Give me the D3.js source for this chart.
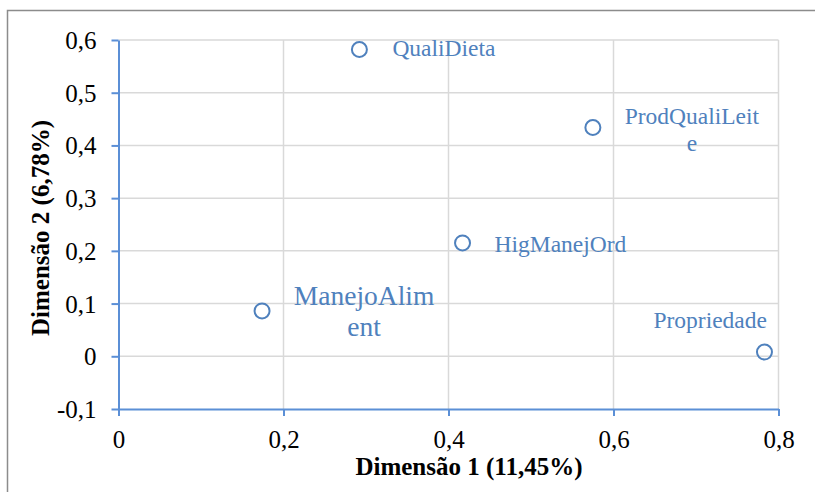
<!DOCTYPE html>
<html>
<head>
<meta charset="utf-8">
<script src="https://cdn.jsdelivr.net/npm/d3@7"></script>
<style>
	body { margin: 0; background: #fff; }
	text { font-family: 'Liberation Serif', 'Times New Roman', serif; }
</style>
</head>
<body>
<div id="chart"></div>
<script>
// data
const names = ['QualiDieta', 'ProdQualiLeite', 'HigManejOrd', 'ManejoAliment', 'Propriedade'];
const dim1 = [0.292, 0.575, 0.417, 0.174, 0.783];
const dim2 = [0.582, 0.434, 0.215, 0.086, 0.008];
const xTicks = [0, 0.2, 0.4, 0.6, 0.8];
const yTicks = [-0.1, 0, 0.1, 0.2, 0.3, 0.4, 0.5, 0.6];

// how each data label is laid out (lines, offset from point, anchor, size)
const labelLines = [['QualiDieta'], ['ProdQualiLeit', 'e'], ['HigManejOrd'], ['ManejoAlim', 'ent'], ['Propriedade']];
const labelStyle = [
	{ dx: 33, dy: 7, anchor: 'start', size: 23.5, lh: 27 },
	{ dx: 99, dy: -4, anchor: 'middle', size: 23.5, lh: 27 },
	{ dx: 32, dy: 9.5, anchor: 'start', size: 23.5, lh: 27 },
	{ dx: 102, dy: -6, anchor: 'middle', size: 27.5, lh: 31 },
	{ dx: 2.5, dy: -24.5, anchor: 'end', size: 23.5, lh: 27 }
];

const W = 815, H = 492;
const margin = { top: 40, right: 36.5, bottom: 83, left: 118.5 };
const width = W - margin.left - margin.right,
	height = H - margin.top - margin.bottom;

const blue = '#4f81bd', axisBlue = '#5b8fd6', grid = '#d9d9d9';

const loc = d3.formatLocale({ decimal: ',', thousands: '.', grouping: [3], currency: ['', ''], minus: '-' });
const fmt = loc.format('.1~f');

const svg = d3.select('#chart').append('svg')
	.attr('width', W)
	.attr('height', H);

// outer chart border (only top and left visible)
svg.append('path')
	.attr('d', 'M7.5,' + H + 'V10.5H' + W)
	.attr('fill', 'none')
	.attr('stroke', '#8c8c8c')
	.attr('stroke-width', 1.5);

const g = svg.append('g')
	.attr('transform', 'translate(' + margin.left + ',' + margin.top + ')');

const x = d3.scaleLinear().domain([0, 0.8]).range([0, width]);
const y = d3.scaleLinear().domain([-0.1, 0.6]).range([height, 0]);

// grid
g.append('g').selectAll('line').data(yTicks.filter(d => d > -0.1)).enter()
	.append('line')
	.attr('x1', 0).attr('x2', width)
	.attr('y1', d => y(d)).attr('y2', d => y(d))
	.attr('stroke', grid).attr('stroke-width', 1.5);
g.append('g').selectAll('line').data(xTicks.filter(d => d > 0)).enter()
	.append('line')
	.attr('x1', d => x(d)).attr('x2', d => x(d))
	.attr('y1', 0).attr('y2', height)
	.attr('stroke', grid).attr('stroke-width', 1.5);

// axes
const xAxis = g.append('g')
	.attr('transform', 'translate(0,' + height + ')')
	.call(d3.axisBottom(x).tickValues(xTicks).tickFormat(fmt).tickSize(7).tickSizeOuter(0).tickPadding(14));
const yAxis = g.append('g')
	.call(d3.axisLeft(y).tickValues(yTicks).tickFormat(fmt).tickSize(7).tickSizeOuter(0).tickPadding(15));

[xAxis, yAxis].forEach(a => {
	a.select('.domain').attr('stroke', axisBlue).attr('stroke-width', 2);
	a.selectAll('.tick line').attr('stroke', axisBlue).attr('stroke-width', 2);
	a.selectAll('.tick text')
		.attr('fill', '#000')
		.style('font-family', "'Liberation Serif', serif")
		.style('font-size', '25px');
});
xAxis.selectAll('.tick text').attr('dy', '0.71em');
yAxis.selectAll('.tick text').attr('dy', '0.34em');

// axis titles
svg.append('text')
	.attr('x', 469).attr('y', 475)
	.attr('text-anchor', 'middle')
	.style('font-size', '25px').style('font-weight', 'bold')
	.text('Dimensão 1 (11,45%)');
svg.append('text')
	.attr('transform', 'translate(49,228) rotate(-90)')
	.attr('text-anchor', 'middle')
	.style('font-size', '25px').style('font-weight', 'bold')
	.text('Dimensão 2 (6,78%)');

// points
g.selectAll('circle.pt').data(names).enter()
	.append('circle')
	.attr('class', 'pt')
	.attr('cx', (d, i) => x(dim1[i]))
	.attr('cy', (d, i) => y(dim2[i]))
	.attr('r', 7.5)
	.attr('fill', 'none')
	.attr('stroke', blue)
	.attr('stroke-width', 2);

// data labels
const lbl = g.selectAll('text.lbl').data(names).enter()
	.append('text')
	.attr('class', 'lbl')
	.attr('fill', blue)
	.attr('text-anchor', (d, i) => labelStyle[i].anchor)
	.style('font-size', (d, i) => labelStyle[i].size + 'px')
	.attr('transform', (d, i) => 'translate(' + (x(dim1[i]) + labelStyle[i].dx) + ',' + (y(dim2[i]) + labelStyle[i].dy) + ')');
lbl.each(function (d, i) {
	d3.select(this).selectAll('tspan').data(labelLines[i]).enter()
		.append('tspan')
		.attr('x', 0)
		.attr('y', (t, j) => j * labelStyle[i].lh)
		.text(t => t);
});
</script>
</body>
</html>
